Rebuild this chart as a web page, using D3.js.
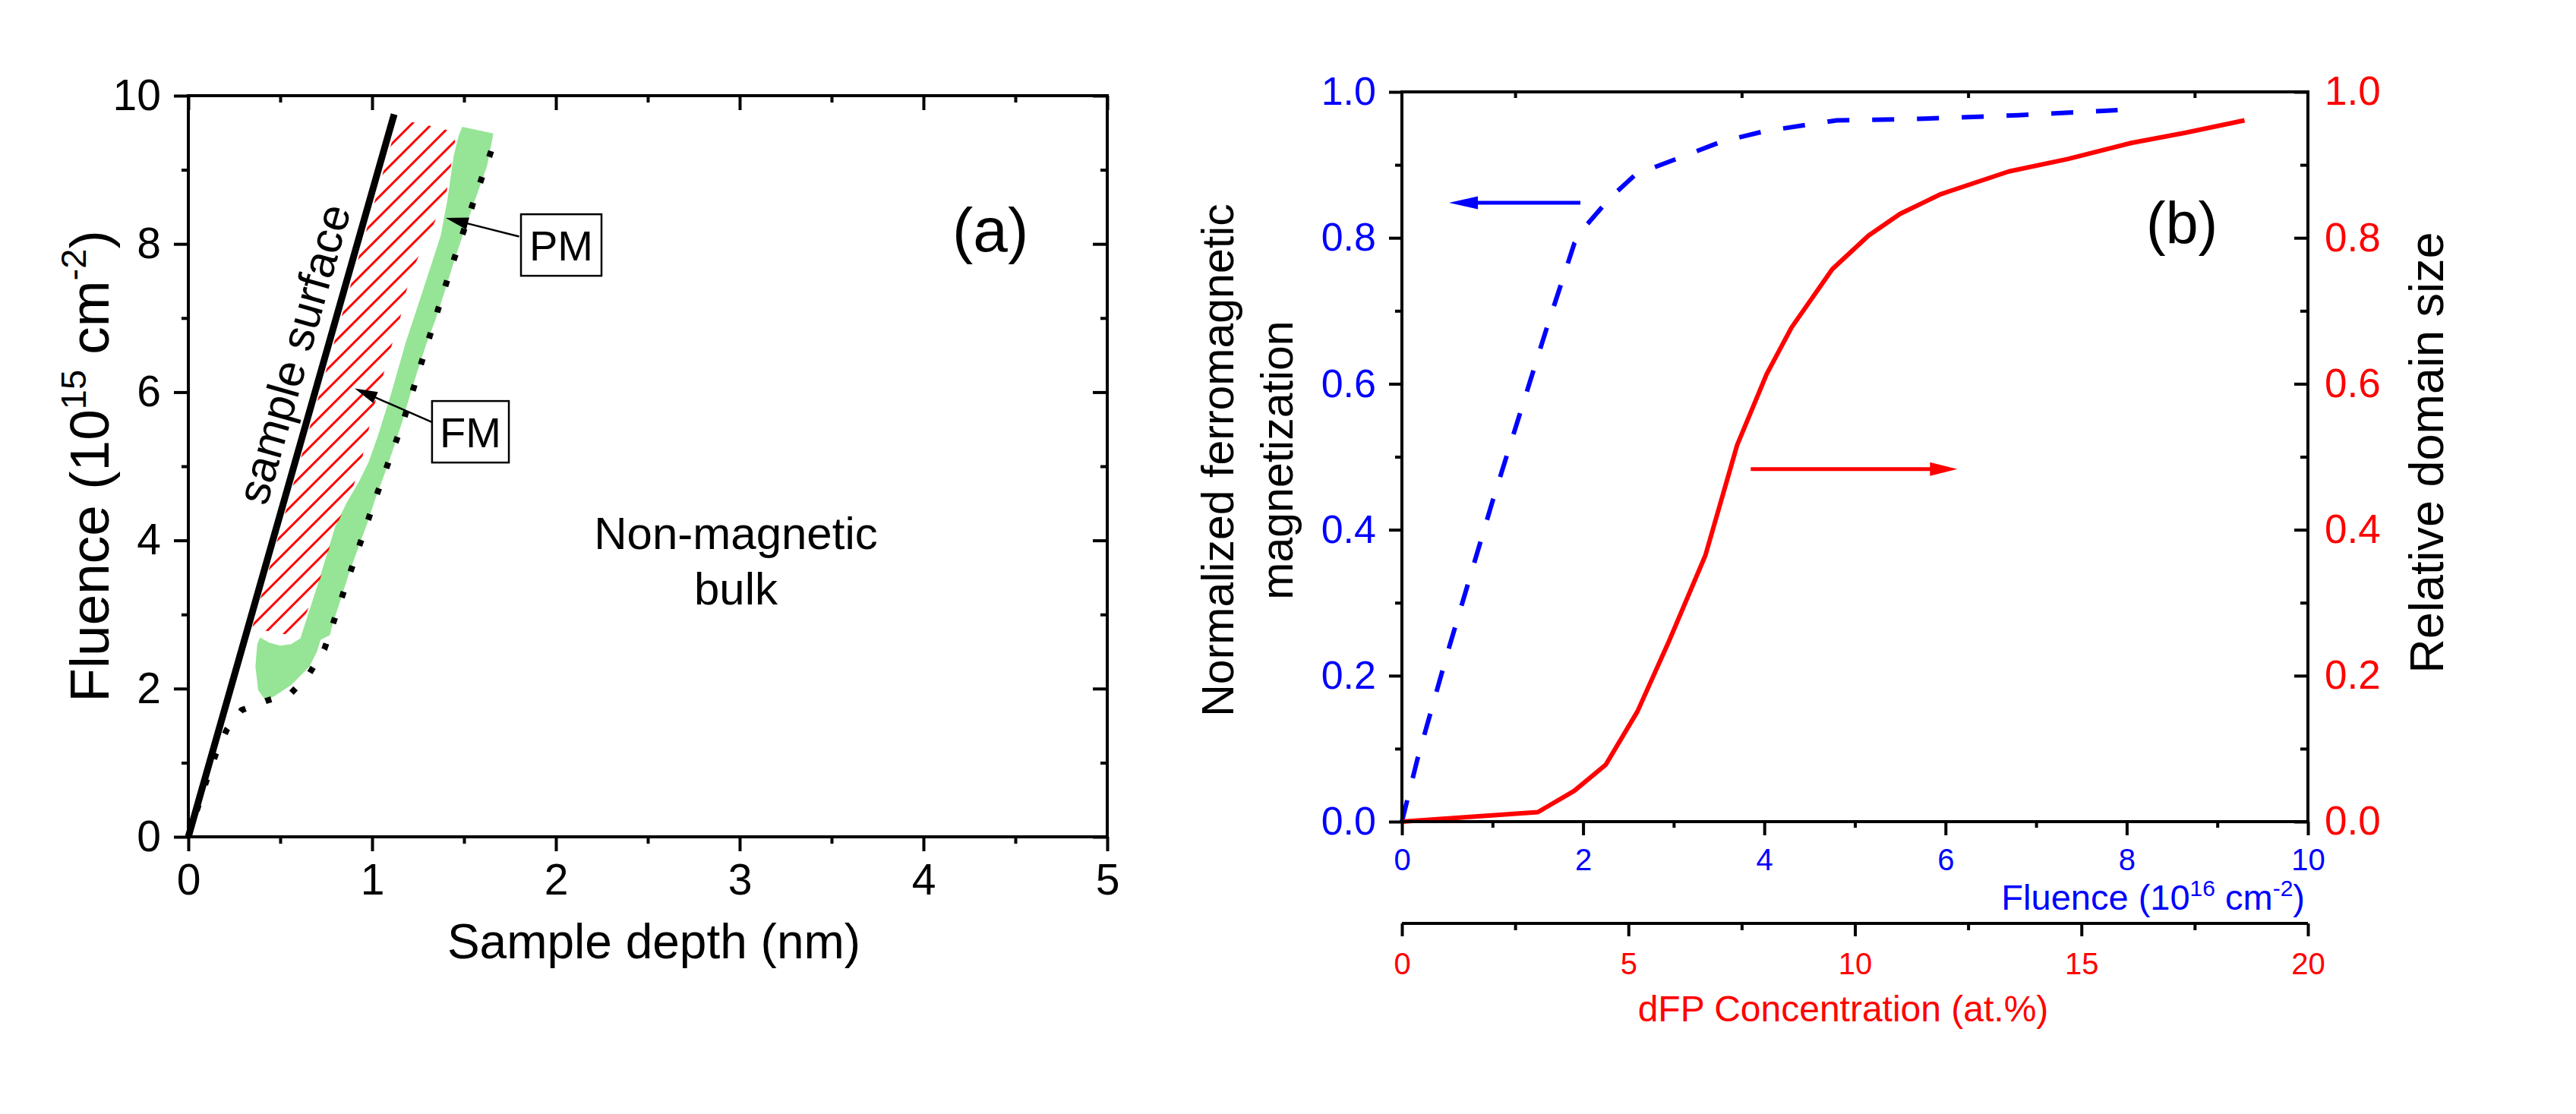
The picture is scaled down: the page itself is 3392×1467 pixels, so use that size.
<!DOCTYPE html>
<html>
<head>
<meta charset="utf-8">
<script src="https://cdn.jsdelivr.net/npm/d3@7"></script>
<style>
  body { margin: 0; background: #fff; }
  svg { display: block; font-family: "Liberation Sans", Arial, sans-serif; }
</style>
</head>
<body>
<svg id="chart" width="3392" height="1467"></svg>
<script>
// ---------- panel (a): depth profile ----------
const surfaceDepth   = [0, 1.12];
const surfaceFluence = [0, 9.75];

// dotted boundary of the modified layer
const boundaryDepth   = [0, 0.10, 0.15, 0.21, 0.29, 0.43, 0.56, 0.66, 0.74, 0.88, 1.02, 1.17, 1.30, 1.43, 1.57, 1.67];
const boundaryFluence = [0, 0.77, 1.12, 1.45, 1.71, 1.84, 1.94, 2.21, 2.53, 3.56, 4.58, 5.61, 6.65, 7.68, 8.70, 9.41];

// green band (PM), outline
const pmDepth = [1.49, 1.66, 1.625, 1.575, 1.53, 1.48, 1.435, 1.39, 1.345, 1.295, 1.25, 1.205, 1.165, 1.12, 1.07, 1.02, 0.975,
  0.925, 0.875, 0.83, 0.785, 0.77, 0.72, 0.70, 0.66, 0.56, 0.47, 0.42, 0.38, 0.365, 0.375, 0.39, 0.44, 0.50, 0.56, 0.61,
  0.645, 0.70, 0.75, 0.80, 0.86, 0.93, 0.98, 1.03, 1.10, 1.183, 1.28, 1.373, 1.41, 1.444, 1.47];
const pmFluence = [9.58, 9.49, 9.05, 8.70, 8.38, 8.02, 7.68, 7.32, 6.98, 6.65, 6.31, 5.95, 5.61, 5.27, 4.91, 4.58, 4.24,
  3.90, 3.56, 3.21, 2.87, 2.72, 2.66, 2.50, 2.30, 2.05, 1.90, 1.84, 1.98, 2.30, 2.60, 2.69, 2.62, 2.58, 2.60, 2.68,
  2.95, 3.37, 3.78, 4.19, 4.50, 4.80, 5.05, 5.40, 5.95, 6.67, 7.40, 8.11, 8.60, 9.19, 9.45];

// hatched region (FM), outline
const fmDepth = [0.345, 0.376, 0.556, 0.619, 0.706, 0.754, 0.802, 0.889, 0.944, 1.008, 1.056, 1.103, 1.151, 1.183, 1.238,
  1.333, 1.405, 1.429, 1.452, 1.405, 1.32, 1.23, 1.14];
const fmFluence = [2.80, 2.80, 2.72, 2.89, 3.38, 3.79, 4.17, 4.66, 5.09, 5.79, 6.19, 6.60, 6.98, 7.34, 7.75,
  8.25, 8.70, 9.05, 9.39, 9.54, 9.59, 9.64, 9.66];

const depthTicks = [0, 1, 2, 3, 4, 5];
const depthMinor = [0.5, 1.5, 2.5, 3.5, 4.5];
const fluenceATicks = [0, 2, 4, 6, 8, 10];
const fluenceAMinor = [1, 3, 5, 7, 9];

// ---------- panel (b) ----------
const fluence16     = [0, 0.17, 0.5, 1.0, 1.6, 1.905, 2.02, 2.3, 2.58, 3.05, 3.53, 4.0, 4.8, 5.7, 6.8, 7.9];
const magnetization = [0, 0.085, 0.23, 0.439, 0.677, 0.793, 0.815, 0.855, 0.887, 0.909, 0.932, 0.946, 0.961, 0.963, 0.968, 0.975];

const dfpConc    = [0, 3.0, 3.8, 4.5, 5.2, 5.9, 6.7, 7.4, 8.05, 8.6, 9.5, 10.3, 11.0, 11.9, 13.4, 14.7, 16.1, 17.3, 18.6];
const domainSize = [0, 0.013, 0.042, 0.078, 0.151, 0.248, 0.365, 0.516, 0.613, 0.677, 0.757, 0.803, 0.833, 0.86, 0.891, 0.908, 0.93, 0.944, 0.961];

const fluenceBTicks = [0, 2, 4, 6, 8, 10];
const fluenceBMinor = [1, 3, 5, 7, 9];
const concTicks = [0, 5, 10, 15, 20];
const concMinor = [2.5, 7.5, 12.5, 17.5];
const yBTicks = [0, 0.2, 0.4, 0.6, 0.8, 1.0];
const yBMinor = [0.1, 0.3, 0.5, 0.7, 0.9];

const BLUE = '#0000ff', RED = '#ff0000', GREEN = '#96e496';

const svg = d3.select('#chart');

// ======================= panel (a) =======================
const xA = d3.scaleLinear().domain([0, 5]).range([248, 1458]);
const yA = d3.scaleLinear().domain([0, 10]).range([1102, 126]);
const lineA = d3.line().x(d => xA(d[0])).y(d => yA(d[1]));

const gA = svg.append('g');

// green PM band
gA.append('path')
  .attr('d', lineA(d3.zip(pmDepth, pmFluence)) + 'Z')
  .attr('fill', GREEN);

// hatched FM region: diagonal red lines clipped to the outline
svg.append('defs').append('clipPath').attr('id', 'fmClip')
  .append('path').attr('d', lineA(d3.zip(fmDepth, fmFluence)) + 'Z');
const hatchStep = 26.5;
const hatch = gA.append('g').attr('clip-path', 'url(#fmClip)');
d3.range(-30, 30).forEach(k => {
  const c = 705.4 + k * hatchStep; // x + y = c in pixels
  hatch.append('line')
    .attr('x1', 250).attr('y1', c - 250)
    .attr('x2', 700).attr('y2', c - 700)
    .attr('stroke', RED).attr('stroke-width', 3);
});

// dotted boundary
gA.append('path')
  .attr('d', lineA(d3.zip(boundaryDepth, boundaryFluence)))
  .attr('fill', 'none').attr('stroke', '#000')
  .attr('stroke-width', 8).attr('stroke-dasharray', '8,28');

// sample surface line
gA.append('path')
  .attr('d', lineA(d3.zip(surfaceDepth, surfaceFluence)))
  .attr('fill', 'none').attr('stroke', '#000').attr('stroke-width', 9);

// "sample surface" label along the line
{
  const p0 = [xA(surfaceDepth[0]), yA(surfaceFluence[0])];
  const p1 = [xA(surfaceDepth[1]), yA(surfaceFluence[1])];
  const ang = Math.atan2(p1[1] - p0[1], p1[0] - p0[0]);
  const f = 6.4;
  const px = xA(f * surfaceDepth[1] / surfaceFluence[1]), py = yA(f);
  const off = 20;
  const bx = px + off * Math.sin(ang), by = py - off * Math.cos(ang);
  gA.append('text')
    .attr('transform', `translate(${bx},${by}) rotate(${ang * 180 / Math.PI})`)
    .attr('text-anchor', 'middle').attr('font-size', 60)
    .text('sample surface');
}

function arrowHead(g, tip, from, len, half, color) {
  const a = Math.atan2(tip[1] - from[1], tip[0] - from[0]);
  const bx = tip[0] - len * Math.cos(a), by = tip[1] - len * Math.sin(a);
  const nx = -Math.sin(a) * half, ny = Math.cos(a) * half;
  g.append('path')
    .attr('d', `M${tip[0]},${tip[1]}L${bx + nx},${by + ny}L${bx - nx},${by - ny}Z`)
    .attr('fill', color);
}
function arrow(g, from, tip, color, w, len, half) {
  const a = Math.atan2(tip[1] - from[1], tip[0] - from[0]);
  g.append('line')
    .attr('x1', from[0]).attr('y1', from[1])
    .attr('x2', tip[0] - (len - 2) * Math.cos(a)).attr('y2', tip[1] - (len - 2) * Math.sin(a))
    .attr('stroke', color).attr('stroke-width', w);
  arrowHead(g, tip, from, len, half, color);
}

// PM / FM boxed labels with arrows
function boxLabel(g, x0, x1, y0, y1, label) {
  g.append('rect')
    .attr('x', xA(x0)).attr('y', yA(y1))
    .attr('width', xA(x1) - xA(x0)).attr('height', yA(y0) - yA(y1))
    .attr('fill', '#fff').attr('stroke', '#000').attr('stroke-width', 2.5);
  g.append('text')
    .attr('x', (xA(x0) + xA(x1)) / 2).attr('y', (yA(y0) + yA(y1)) / 2 + 20)
    .attr('text-anchor', 'middle').attr('font-size', 56)
    .text(label);
}
arrow(gA, [xA(1.80), yA(8.10)], [xA(1.40), yA(8.35)], '#000', 2.5, 30, 8);
boxLabel(gA, 1.81, 2.248, 7.57, 8.40, 'PM');
arrow(gA, [xA(1.33), yA(5.59)], [xA(0.905), yA(6.05)], '#000', 2.5, 30, 8);
boxLabel(gA, 1.326, 1.744, 5.05, 5.88, 'FM');

gA.append('text').attr('x', 969).attr('y', 723)
  .attr('text-anchor', 'middle').attr('font-size', 60).text('Non-magnetic');
gA.append('text').attr('x', 969).attr('y', 796)
  .attr('text-anchor', 'middle').attr('font-size', 60).text('bulk');
gA.append('text').attr('x', 1254).attr('y', 331)
  .attr('font-size', 82).text('(a)');

// axes of panel (a)
function styleAxis(sel, size, color) {
  sel.select('.domain').remove();
  sel.selectAll('.tick line').attr('stroke', '#000').attr('stroke-width', 4);
  sel.selectAll('.tick text')
    .attr('font-family', '"Liberation Sans", Arial, sans-serif')
    .attr('font-size', size).attr('fill', color || '#000');
}
const fmtInt = d3.format('d');

gA.append('g').attr('transform', 'translate(0,1102)')
  .call(d3.axisBottom(xA).tickValues(depthMinor).tickSize(9).tickFormat(''))
  .call(s => styleAxis(s, 0));
gA.append('g').attr('transform', 'translate(0,1102)')
  .call(d3.axisBottom(xA).tickValues(depthTicks).tickSize(19).tickPadding(17).tickFormat(fmtInt))
  .call(s => styleAxis(s, 57));
gA.append('g').attr('transform', 'translate(248,0)')
  .call(d3.axisLeft(yA).tickValues(fluenceAMinor).tickSize(9).tickFormat(''))
  .call(s => styleAxis(s, 0));
gA.append('g').attr('transform', 'translate(248,0)')
  .call(d3.axisLeft(yA).tickValues(fluenceATicks).tickSize(19).tickPadding(17).tickFormat(fmtInt))
  .call(s => styleAxis(s, 57));
gA.append('g').attr('transform', 'translate(0,126)')
  .call(d3.axisTop(xA).tickValues(depthMinor).tickSize(-9).tickFormat(''))
  .call(s => styleAxis(s, 0));
gA.append('g').attr('transform', 'translate(0,126)')
  .call(d3.axisTop(xA).tickValues(depthTicks).tickSize(-19).tickFormat(''))
  .call(s => styleAxis(s, 0));
gA.append('g').attr('transform', 'translate(1458,0)')
  .call(d3.axisRight(yA).tickValues(fluenceAMinor).tickSize(-9).tickFormat(''))
  .call(s => styleAxis(s, 0));
gA.append('g').attr('transform', 'translate(1458,0)')
  .call(d3.axisRight(yA).tickValues(fluenceATicks).tickSize(-19).tickFormat(''))
  .call(s => styleAxis(s, 0));
gA.append('rect')
  .attr('x', 248).attr('y', 126).attr('width', 1210).attr('height', 976)
  .attr('fill', 'none').attr('stroke', '#000').attr('stroke-width', 4);

// axis titles of panel (a)
{
  const t = gA.append('text')
    .attr('transform', 'translate(143,614) rotate(-90)')
    .attr('text-anchor', 'middle').attr('font-size', 73);
  t.append('tspan').text('Fluence (10');
  t.append('tspan').attr('font-size', 47).attr('dy', -30).text('15');
  t.append('tspan').attr('dy', 30).text(' cm');
  t.append('tspan').attr('font-size', 47).attr('dy', -30).text('-2');
  t.append('tspan').attr('dy', 30).text(')');
}
gA.append('text').attr('x', 861).attr('y', 1262)
  .attr('text-anchor', 'middle').attr('font-size', 64).text('Sample depth (nm)');

// ======================= panel (b) =======================
const xB = d3.scaleLinear().domain([0, 10]).range([1846, 3039]);
const xC = d3.scaleLinear().domain([0, 20]).range([1846, 3039]);
const yB = d3.scaleLinear().domain([0, 1]).range([1082, 121]);
const gB = svg.append('g');

gB.append('path')
  .attr('d', d3.line().x(d => xB(d[0])).y(d => yB(d[1]))(d3.zip(fluence16, magnetization)))
  .attr('fill', 'none').attr('stroke', BLUE).attr('stroke-width', 6)
  .attr('stroke-dasharray', '29,30');
gB.append('path')
  .attr('d', d3.line().x(d => xC(d[0])).y(d => yB(d[1]))(d3.zip(dfpConc, domainSize)))
  .attr('fill', 'none').attr('stroke', RED).attr('stroke-width', 6)
  .attr('stroke-linejoin', 'round');

// direction arrows
arrow(gB, [xB(1.97), yB(0.848)], [xB(0.52), yB(0.848)], BLUE, 5, 38, 8.5);
arrow(gB, [xB(3.85), yB(0.483)], [xB(6.13), yB(0.483)], RED, 5, 36, 9);

gB.append('text').attr('x', 2826).attr('y', 321)
  .attr('font-size', 77).text('(b)');

const fmt1 = d3.format('.1f');
// left axis (blue labels)
gB.append('g').attr('transform', 'translate(1846,0)')
  .call(d3.axisLeft(yB).tickValues(yBMinor).tickSize(9).tickFormat(''))
  .call(s => styleAxis(s, 0));
gB.append('g').attr('transform', 'translate(1846,0)')
  .call(d3.axisLeft(yB).tickValues(yBTicks).tickSize(17).tickPadding(17).tickFormat(fmt1))
  .call(s => styleAxis(s, 52, BLUE));
// right axis (red labels, inward ticks)
gB.append('g').attr('transform', 'translate(3039,0)')
  .call(d3.axisRight(yB).tickValues(yBMinor).tickSize(-10).tickFormat(''))
  .call(s => styleAxis(s, 0));
gB.append('g').attr('transform', 'translate(3039,0)')
  .call(d3.axisRight(yB).tickValues(yBTicks).tickSize(-18).tickPadding(22).tickFormat(fmt1))
  .call(s => styleAxis(s, 53, RED));
// top axis ticks
gB.append('g').attr('transform', 'translate(0,121)')
  .call(d3.axisTop(xC).tickValues(concMinor).tickSize(-8).tickFormat(''))
  .call(s => styleAxis(s, 0));
// bottom fluence axis
gB.append('g').attr('transform', 'translate(0,1082)')
  .call(d3.axisBottom(xB).tickValues(fluenceBMinor).tickSize(8).tickFormat(''))
  .call(s => styleAxis(s, 0));
gB.append('g').attr('transform', 'translate(0,1082)')
  .call(d3.axisBottom(xB).tickValues(fluenceBTicks).tickSize(18).tickPadding(18).tickFormat(fmtInt))
  .call(s => styleAxis(s, 40, BLUE));
gB.append('rect')
  .attr('x', 1846).attr('y', 121).attr('width', 1193).attr('height', 961)
  .attr('fill', 'none').attr('stroke', '#000').attr('stroke-width', 4);

// second bottom axis: dFP concentration
gB.append('line')
  .attr('x1', 1846).attr('x2', 3039).attr('y1', 1216).attr('y2', 1216)
  .attr('stroke', '#000').attr('stroke-width', 4);
gB.append('g').attr('transform', 'translate(0,1216)')
  .call(d3.axisBottom(xC).tickValues(concMinor).tickSize(9).tickFormat(''))
  .call(s => styleAxis(s, 0));
gB.append('g').attr('transform', 'translate(0,1216)')
  .call(d3.axisBottom(xC).tickValues(concTicks).tickSize(17).tickPadding(22).tickFormat(fmtInt))
  .call(s => styleAxis(s, 40, RED));

// titles of panel (b)
gB.append('text').attr('transform', 'translate(1624,606) rotate(-90)')
  .attr('text-anchor', 'middle').attr('font-size', 59).text('Normalized ferromagnetic');
gB.append('text').attr('transform', 'translate(1702,606) rotate(-90)')
  .attr('text-anchor', 'middle').attr('font-size', 59).text('magnetization');
gB.append('text').attr('transform', 'translate(3217,596) rotate(-90)')
  .attr('text-anchor', 'middle').attr('font-size', 63).text('Relative domain size');
{
  const t = gB.append('text').attr('x', 3035).attr('y', 1198)
    .attr('text-anchor', 'end').attr('font-size', 47).attr('fill', BLUE);
  t.append('tspan').text('Fluence (10');
  t.append('tspan').attr('font-size', 30).attr('dy', -18).text('16');
  t.append('tspan').attr('dy', 18).text(' cm');
  t.append('tspan').attr('font-size', 30).attr('dy', -18).text('-2');
  t.append('tspan').attr('dy', 18).text(')');
}
gB.append('text').attr('x', 2427).attr('y', 1345)
  .attr('text-anchor', 'middle').attr('font-size', 48).attr('fill', RED)
  .text('dFP Concentration (at.%)');
</script>
</body>
</html>
